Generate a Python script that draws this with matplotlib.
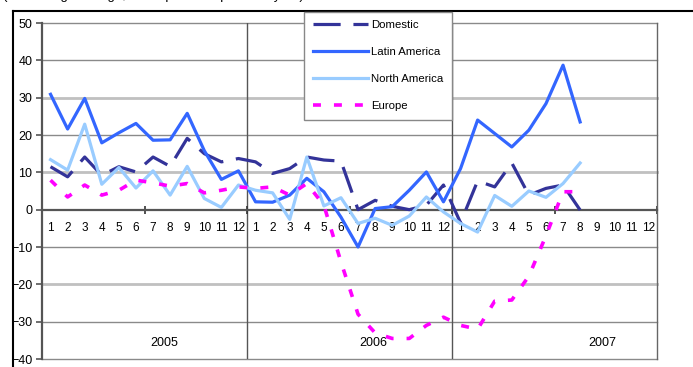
import numpy as np
import matplotlib
matplotlib.use("Agg")
import matplotlib.pyplot as plt
from matplotlib.lines import Line2D

plt.rcParams['font.family'] = ['Liberation Sans', 'DejaVu Sans']

# data (monthly values, 2005-01 .. 2007-08)
months = [str(m) for m in range(1, 13)] * 3
years = ['2005', '2006', '2007']

domestic = [11.5, 8.8, 14.1, 9.2, 11.5, 10.1, 14.1, 11.6, 19.1, 15.0, 12.8, 13.7,
            12.8, 9.7, 11.0, 14.1, 13.3, 13.0, 0.0, 2.5, 0.9, 0.0, 1.2, 6.6,
            -3.5, 7.7, 6.1, 12.5, 3.9, 5.7, 6.6, -0.1]
latin_america = [30.9, 21.6, 29.8, 17.9, 20.6, 23.1, 18.6, 18.7, 25.8, 15.8, 8.1, 10.4,
                 2.1, 2.0, 3.9, 8.4, 4.8, -2.0, -10.0, 0.3, 0.8, 5.2, 10.1, 2.1,
                 11.0, 24.0, 20.4, 16.8, 21.3, 28.4, 38.7, 23.5]
north_america = [13.4, 10.6, 22.9, 6.8, 11.3, 5.8, 10.4, 3.9, 11.6, 3.0, 0.6, 6.6,
                 5.2, 4.5, -2.6, 14.1, 1.0, 3.2, -3.7, -2.3, -4.2, -1.7, 3.4, -0.6,
                 -3.7, -6.0, 3.8, 0.9, 5.0, 3.3, 7.0, 12.5]
europe = [7.9, 3.4, 6.6, 3.9, 5.2, 7.9, 7.2, 6.3, 7.0, 4.5, 5.2, 6.1,
          5.7, 6.1, 3.9, 7.0, 1.2, -14.0, -28.0, -33.0, -34.5, -34.5, -31.0, -28.8,
          -31.0, -32.0, -24.5, -24.2, -17.8, -7.0, 4.8, 4.8]

W, H = 693, 367
fig = plt.figure(figsize=(W / 100, H / 100), dpi=100)
ax = fig.add_axes([42 / W, 8 / H, 615 / W, 336 / H])

x = np.arange(len(domestic))
ax.plot(x, domestic, color='#333399', lw=2.3, ls=(0, (8.5, 4)), dash_capstyle='butt', label='Domestic', zorder=3)
ax.plot(x, latin_america, color='#3366FF', lw=2.3, label='Latin America', zorder=3)
ax.plot(x, north_america, color='#99CCFF', lw=2.3, label='North America', zorder=3)
ax.plot(x, europe, color='#FF00FF', lw=2.6, ls=(0, (2.2, 3.6)), dash_capstyle='butt', label='Europe', zorder=4)

ax.set_xlim(-0.5, 35.5)
ax.set_ylim(-40, 50)

# gridlines (excel rendering: some lighter/thicker)
for v in range(-40, 51, 10):
    if v in (30, 10, -20):
        ax.axhline(v, color='#c0c0c0', lw=2, zorder=1, clip_on=False)
    elif v != 0:
        ax.axhline(v, color='#8a8a8a', lw=1, zorder=1, clip_on=False)
for b in (11.5, 23.5):
    ax.axvline(b, color='#555555', lw=1, zorder=1)

ax.spines['top'].set_visible(False)
ax.spines['right'].set_color('#666666')
ax.spines['right'].set_linewidth(1)
ax.spines['left'].set_color('#555555')
ax.spines['left'].set_linewidth(1.6)
ax.spines['bottom'].set_position(('data', 0))
ax.spines['bottom'].set_color('#555555')
ax.spines['bottom'].set_linewidth(1.6)

ax.set_yticks(range(-40, 51, 10))
ax.tick_params(axis='y', length=4, width=1.2, color='#555555', pad=3, labelsize=9)
ax.set_xticks(x.tolist() + list(range(len(domestic), 36)))
ax.set_xticklabels(months)
ax.tick_params(axis='x', which='major', length=0, pad=9, labelsize=8.5)
ax.set_xticks([5.5, 11.5, 17.5, 23.5, 29.5, 35.5], minor=True)
ax.tick_params(axis='x', which='minor', length=6, width=1.2, direction='inout', color='#333333')

for xp, yr in zip([6.64, 18.9, 32.3], years):
    ax.text(xp, -35.8, yr, ha='center', va='center', fontsize=9)

leg = fig.legend(loc='upper left', bbox_to_anchor=(304 / W, 1 - 11.5 / H),
                 bbox_transform=fig.transFigure, fontsize=8.2, frameon=True,
                 fancybox=False, framealpha=1, edgecolor='#888888', borderaxespad=0,
                 handlelength=4.9, handletextpad=0.25, labelspacing=1.5, borderpad=0.75)
leg.get_frame().set_linewidth(1)

# outer frame and clipped caption above it
fig.add_artist(Line2D([13 / W, 1], [1 - 11 / H] * 2, transform=fig.transFigure, color='black', lw=1.5))
fig.add_artist(Line2D([13 / W] * 2, [0, 1 - 11 / H], transform=fig.transFigure, color='black', lw=1.5))
fig.text(3 / W, 1 + 1.2 / H, '(Percentage change, same period of previous year)',
         ha='left', va='baseline', fontsize=9.5)

fig.savefig('out.png', dpi=100)
